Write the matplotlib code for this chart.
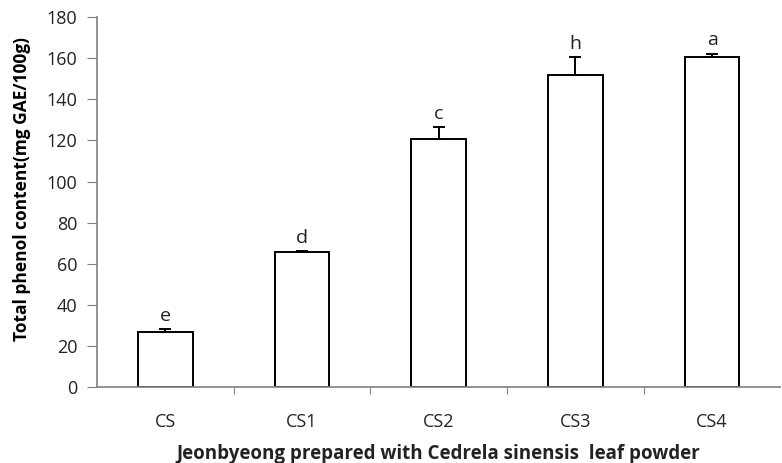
import matplotlib
matplotlib.use('Agg')
import matplotlib.pyplot as plt

samples = ['CS', 'CS1', 'CS2', 'CS3', 'CS4']
phenol = [26.6, 65.5, 120.5, 152.0, 160.4]
phenol_err = [1.5, 0.6, 6.0, 8.4, 1.9]
letters = ['e', 'd', 'c', 'h', 'a']

plt.rcParams['font.family'] = ['Open Sans', 'DejaVu Sans']

fig = plt.figure(figsize=(7.82, 4.63), dpi=100)
ax = fig.add_axes([0.124, 0.164, 0.874, 0.799])

x = range(len(samples))
ax.bar(x, phenol, 0.4, color='white', edgecolor='black', linewidth=1.4,
       yerr=[[0] * len(phenol), phenol_err],
       error_kw=dict(ecolor='black', elinewidth=1.4, capsize=4, capthick=1.4))

for i, (v, e, l) in enumerate(zip(phenol, phenol_err, letters)):
    ax.annotate(l, (i, v + e), xytext=(0, 3), textcoords='offset points',
                ha='center', va='bottom', fontsize=14, color='#222222')

ax.set_xlim(-0.5, len(samples) - 0.5)
ax.set_ylim(0, 180)
ax.set_yticks(range(0, 181, 20))
ax.set_xticks([i + 0.5 for i in range(len(samples) - 1)], minor=False)
ax.set_xticklabels([])
ax.set_xticks(list(x), minor=True)
ax.set_xticklabels(samples, minor=True)
ax.tick_params(axis='x', which='minor', length=0, pad=19, labelsize=13, labelcolor='#222222')
ax.tick_params(axis='x', which='major', length=5, color='#808080', direction='out')
ax.tick_params(axis='y', length=7, color='#808080', pad=7, labelsize=13, labelcolor='#222222')

for s in ['top', 'right']:
    ax.spines[s].set_visible(False)
for s in ['left', 'bottom']:
    ax.spines[s].set_color('#808080')
    ax.spines[s].set_linewidth(1.2)

ax.set_ylabel('Total phenol content(mg GAE/100g)', fontsize=12.5, fontweight='bold')
ax.yaxis.set_label_coords(-0.097, 0.535)
ax.set_xlabel('Jeonbyeong prepared with Cedrela sinensis  leaf powder', fontsize=13.5,
              fontweight='bold', color='#222222')
ax.xaxis.set_label_coords(0.5, -0.155)

fig.savefig('out.png', dpi=100)
